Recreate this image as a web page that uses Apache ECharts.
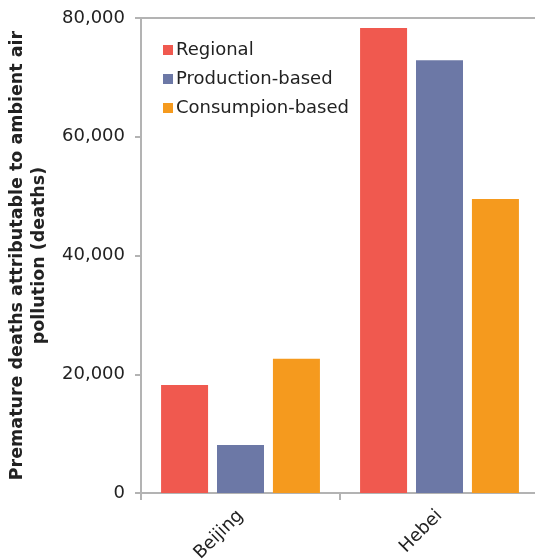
<!DOCTYPE html>
<html>
<head>
<meta charset="utf-8">
<script src="https://cdn.jsdelivr.net/npm/echarts@6/dist/echarts.min.js"></script>
<style>
  html, body { margin: 0; padding: 0; background: #fff; }
  #chart { width: 535px; height: 560px; }
</style>
</head>
<body>
<div id="chart"></div>
<script>
// Regions on the category axis
const regions = ['Beijing', 'Hebei'];

// Premature deaths attributable to ambient air pollution (deaths)
const regional = [18200, 78300];
const productionBased = [8100, 72900];
const consumptionBased = [22600, 49500];

const seriesNames = ['Regional', 'Production-based', 'Consumpion-based'];
const seriesColors = ['#F0594F', '#6C78A6', '#F59A1E'];

const axisGray = '#b3b3b3';
const font = 'DejaVu Sans, Verdana, sans-serif';

const chart = echarts.init(document.getElementById('chart'), null, { renderer: 'canvas' });

const values = [regional, productionBased, consumptionBased];

chart.setOption({
  animation: false,
  backgroundColor: '#fff',
  textStyle: { fontFamily: font },
  grid: {
    left: 141, top: 18, width: 398, height: 475,
    containLabel: false,
    outerBoundsMode: 'none'
  },
  legend: {
    orient: 'vertical',
    left: 158,
    top: 36,
    itemWidth: 10,
    itemHeight: 10,
    itemGap: 11,
    icon: 'rect',
    textStyle: { fontFamily: font, fontSize: 18, color: '#222', padding: [0, 0, 0, -2] },
    data: seriesNames
  },
  xAxis: [
    {
      type: 'category',
      data: regions,
      axisLine: { show: true, lineStyle: { color: axisGray, width: 2 } },
      axisTick: { show: true, length: 7, lineStyle: { color: axisGray, width: 2 } },
      axisLabel: {
        rotate: 45,
        margin: 20,
        fontFamily: font,
        fontSize: 18,
        color: '#222'
      }
    },
    {
      // top border line of the plot area
      type: 'category',
      position: 'top',
      data: regions,
      axisLine: { show: true, lineStyle: { color: axisGray, width: 2 } },
      axisTick: { show: false },
      axisLabel: { show: false }
    }
  ],
  yAxis: {
    type: 'value',
    min: 0,
    max: 80000,
    interval: 20000,
    name: 'Premature deaths attributable to ambient air\npollution (deaths)',
    nameLocation: 'middle',
    nameGap: 91,
    nameTextStyle: {
      fontFamily: font,
      fontSize: 17.5,
      fontWeight: 'bold',
      color: '#222',
      lineHeight: 22
    },
    axisLine: { show: true, lineStyle: { color: axisGray, width: 2 } },
    axisTick: { show: true, length: 6, lineStyle: { color: axisGray, width: 2 } },
    splitLine: { show: false },
    axisLabel: {
      margin: 16,
      fontFamily: font,
      fontSize: 18,
      color: '#222',
      formatter: v => v.toLocaleString('en-US')
    }
  },
  series: seriesNames.map((name, i) => ({
    name: name,
    type: 'bar',
    xAxisIndex: 0,
    data: values[i],
    barWidth: 47,
    barGap: '19%',
    itemStyle: { color: seriesColors[i] }
  }))
});
</script>
</body>
</html>
